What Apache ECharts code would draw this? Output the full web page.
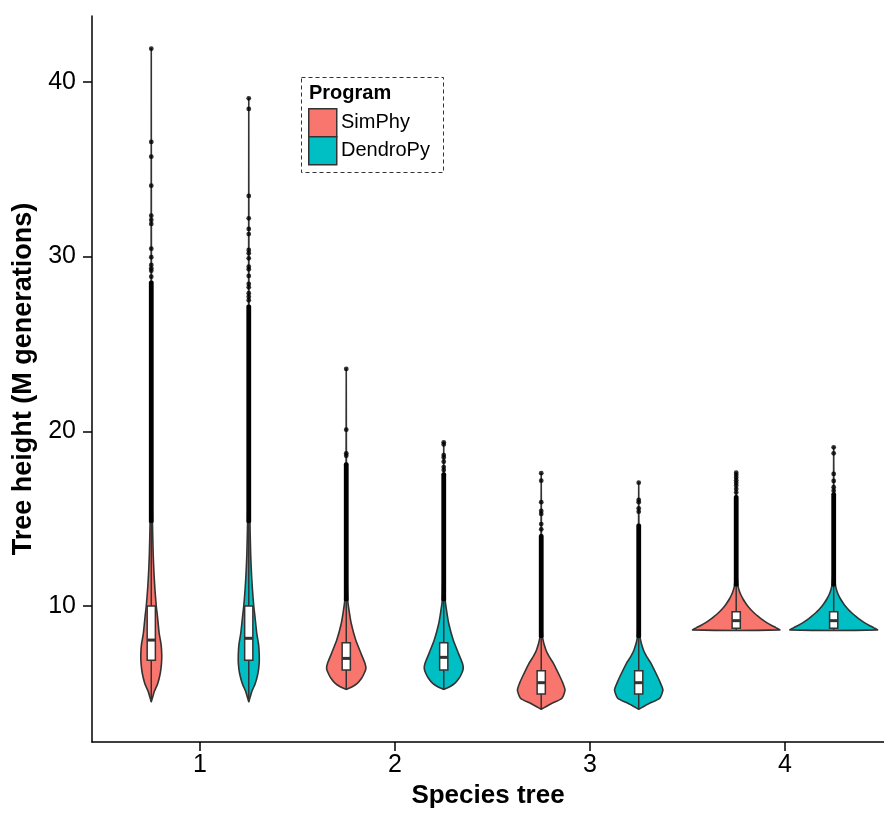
<!DOCTYPE html>
<html>
<head>
<meta charset="utf-8">
<script src="https://cdn.jsdelivr.net/npm/echarts@6/dist/echarts.min.js"></script>
<style>html,body{margin:0;padding:0;background:#fff}#c{width:884px;height:816px}</style>
</head>
<body>
<div id="c"></div>
<script>
// ---- data ----
const speciesTrees = ['1', '2', '3', '4'];
const programs = ['SimPhy', 'DendroPy'];
const yTicks = [10, 20, 30, 40];

// violin outlines: [tree height, half width in category units], bottom to top
const violinSimPhy1 = [[4.52,0],[4.8,.0077],[5.1,.0154],[5.57,.0333],[6.15,.0462],[6.7,.0523],[7.2,.0538],[7.8,.0503],[8.44,.0405],[9.4,.0318],[10.0,.0256],[11.0,.0185],[12.0,.0133],[13.0,.0097],[14.7,.0062],[17,.0031],[21,.0015],[28,.0008],[35,.0003],[41.9,0]];
const violinDendroPy1 = [[4.52,0],[4.8,.0077],[5.1,.0154],[5.57,.0333],[6.15,.0472],[6.7,.0533],[7.2,.0538],[7.8,.0503],[8.44,.041],[9.4,.0318],[10.0,.0256],[11.0,.0185],[12.0,.0133],[13.0,.0097],[14.7,.0062],[17,.0031],[21,.0015],[28,.0008],[34,.0003],[39.06,0]];
const violinSimPhy2 = [[5.23,0],[5.38,.0308],[5.57,.0564],[5.86,.0785],[6.15,.0923],[6.43,.1010],[6.72,.0959],[7.29,.0754],[8.05,.0487],[9.0,.0256],[9.67,.0154],[10.25,.0082],[11.5,.0046],[13,.0026],[16,.0013],[20,.0005],[23.57,0]];
const violinDendroPy2 = [[5.23,0],[5.38,.0308],[5.57,.0564],[5.86,.0785],[6.15,.0923],[6.43,.1000],[6.72,.0959],[7.29,.0754],[8.05,.0487],[9.0,.0256],[9.67,.0154],[10.25,.0082],[11.5,.0046],[13,.0026],[16,.0013],[19.37,0]];
const violinSimPhy3 = [[4.09,0],[4.25,.0256],[4.43,.0554],[4.72,.1067],[5.19,.1221],[5.6,.1103],[5.95,.0964],[6.72,.0626],[7.1,.041],[7.48,.0241],[8.15,.0077],[9,.0041],[11,.0021],[14,.001],[17.6,0]];
const violinDendroPy3 = [[4.09,0],[4.25,.0256],[4.43,.0554],[4.72,.1080],[5.19,.1241],[5.6,.1110],[5.95,.0970],[6.72,.0630],[7.1,.041],[7.48,.0241],[8.15,.0077],[9,.0041],[11,.0021],[14,.001],[17.06,0]];
const violinSimPhy4 = [[8.63,.2236],[8.75,.2051],[8.9,.1795],[9.05,.1564],[9.2,.1359],[9.4,.1128],[9.6,.0923],[9.8,.0744],[10.0,.0590],[10.2,.0462],[10.4,.0349],[10.6,.0256],[10.8,.0179],[11.1,.0103],[11.5,.0062],[12,.0041],[14,.0021],[17.63,0]];
const violinDendroPy4 = [[8.63,.2246],[8.75,.2060],[8.9,.1805],[9.05,.1574],[9.2,.1369],[9.4,.1138],[9.6,.0933],[9.8,.0750],[10.0,.0595],[10.2,.0465],[10.4,.0351],[10.6,.0258],[10.8,.0180],[11.1,.0103],[11.5,.0062],[12,.0041],[14,.0021],[19.08,0]];

// box statistics: [lower whisker, q1, median, q3, upper whisker] per species tree
const boxSimPhy = [[4.52,6.9,8.05,10.0,14.73],[5.23,6.34,7.0,7.9,10.25],[4.09,4.96,5.61,6.3,8.15],[8.63,8.72,9.16,9.67,11.1]];
const boxDendroPy = [[4.52,6.9,8.15,10.0,14.73],[5.23,6.34,7.06,7.9,10.25],[4.09,4.96,5.61,6.3,8.15],[8.63,8.72,9.16,9.67,11.1]];

// outliers: dense run [from, to] and separate points above it
const denseSimPhy = [[14.73,28.57],[10.25,18.17],[8.15,14.06],[11.1,16.3]];
const denseDendroPy = [[14.73,27.2],[10.25,17.6],[8.15,14.67],[11.1,16.45]];
const outliersSimPhy = [
  [41.9,36.56,35.72,34.06,32.34,32.1,31.87,30.45,29.96,29.52,29.33,29.19,28.85],
  [23.57,20.09,18.74,18.6],
  [17.6,17.17,15.94,15.44,15.27,14.69,14.39],
  [17.63,17.5,17.35,17.2,17.05,16.9,16.7,16.5]
];
const outliersDendroPy = [
  [39.06,38.45,33.47,32.19,31.58,31.29,30.38,30.19,29.9,29.42,29.27,28.89,28.43,28.24,27.9,27.7,27.5],
  [19.37,19.25,18.64,18.5,18.26,17.95,17.78],
  [17.06,16.07,15.94,15.59,15.4],
  [19.08,18.74,17.56,17.16,16.8,16.6]
];

// ---- build ----
const colors = ['#F8766D', '#00BFC4'];
const dodge = [-0.25, 0.25];
const violinsByProgram = [
  [violinSimPhy1, violinSimPhy2, violinSimPhy3, violinSimPhy4],
  [violinDendroPy1, violinDendroPy2, violinDendroPy3, violinDendroPy4]
];
const boxesByProgram = [boxSimPhy, boxDendroPy];
const denseByProgram = [denseSimPhy, denseDendroPy];
const outByProgram = [outliersSimPhy, outliersDendroPy];

const items = [];
const denseData = [];
const pointData = [];
speciesTrees.forEach((t, ti) => {
  programs.forEach((p, pi) => {
    const x = ti + 1 + dodge[pi];
    const prof = violinsByProgram[pi][ti];
    items.push({ x, prof, box: boxesByProgram[pi][ti], color: colors[pi] });
    const d = denseByProgram[pi][ti];
    denseData.push([x, d[0], d[1]]);
    outByProgram[pi][ti].forEach(v => pointData.push([x, v]));
  });
});
const violinData = items.map((it, i) => [it.x, it.prof[0][0], it.prof[it.prof.length - 1][0], i]);

const chart = echarts.init(document.getElementById('c'));
const FONT = 'Liberation Sans, Arial, Helvetica, sans-serif';
const BOXHALF = 0.021;

chart.setOption({
  animation: false,
  backgroundColor: '#fff',
  grid: { left: 92, right: 0, top: 16, bottom: 74, containLabel: false },
  xAxis: {
    type: 'value', min: 0.446, max: 4.508,
    axisLine: { show: true, onZero: false, lineStyle: { color: '#000', width: 1.5 } },
    axisTick: { show: true, length: 9, customValues: [1, 2, 3, 4], lineStyle: { color: '#000', width: 1.5 } },
    axisLabel: { customValues: [1, 2, 3, 4], formatter: v => speciesTrees[Math.round(v) - 1], fontSize: 25, color: '#000', margin: 11, fontFamily: FONT },
    splitLine: { show: false },
    name: 'Species tree', nameLocation: 'middle', nameGap: 41,
    nameTextStyle: { fontSize: 26, fontWeight: 'bold', color: '#000', fontFamily: FONT, verticalAlign: 'top' }
  },
  yAxis: {
    type: 'value', min: 2.215, max: 43.77,
    axisLine: { show: true, onZero: false, lineStyle: { color: '#000', width: 1.5 } },
    axisTick: { show: true, length: 9, customValues: yTicks, lineStyle: { color: '#000', width: 1.5 } },
    axisLabel: { customValues: yTicks, fontSize: 25, color: '#000', margin: 16, fontFamily: FONT },
    splitLine: { show: false },
    name: 'Tree height (M generations)', nameLocation: 'middle', nameGap: 52, nameRotate: 90,
    nameTextStyle: { fontSize: 27, fontWeight: 'bold', color: '#000', fontFamily: FONT }
  },
  series: [
    {
      type: 'custom', z: 1,
      data: violinData,
      encode: { x: 0, y: [1, 2] },
      renderItem: (params, api) => {
        const it = items[api.value(3)];
        const x = it.x;
        const left = it.prof.map(([y, w]) => api.coord([x - w, y]));
        const right = it.prof.slice().reverse().map(([y, w]) => api.coord([x + w, y]));
        const [lo, q1, med, q3, hi] = it.box;
        const pLo = api.coord([x, lo]), pQ1 = api.coord([x, q1]), pQ3 = api.coord([x, q3]), pHi = api.coord([x, hi]);
        const bl = api.coord([x - BOXHALF, q3]), br = api.coord([x + BOXHALF, q1]);
        const ml = api.coord([x - BOXHALF, med]), mr = api.coord([x + BOXHALF, med]);
        return {
          type: 'group',
          children: [
            { type: 'polygon', shape: { points: left.concat(right), smooth: 0.2 }, style: { fill: it.color, stroke: '#333333', lineWidth: 1.6, lineJoin: 'round' } },
            { type: 'line', shape: { x1: pLo[0], y1: pLo[1], x2: pQ1[0], y2: pQ1[1] }, style: { stroke: '#333333', lineWidth: 1.5 } },
            { type: 'line', shape: { x1: pQ3[0], y1: pQ3[1], x2: pHi[0], y2: pHi[1] }, style: { stroke: '#333333', lineWidth: 1.5 } },
            { type: 'rect', shape: { x: bl[0], y: bl[1], width: br[0] - bl[0], height: br[1] - bl[1] }, style: { fill: '#ffffff', stroke: '#333333', lineWidth: 1.5 } },
            { type: 'line', shape: { x1: ml[0], y1: ml[1], x2: mr[0], y2: mr[1] }, style: { stroke: '#333333', lineWidth: 3 } }
          ]
        };
      }
    },
    {
      type: 'custom', z: 2,
      data: denseData,
      encode: { x: 0, y: [1, 2] },
      renderItem: (params, api) => {
        const a = api.coord([api.value(0), api.value(1)]);
        const b = api.coord([api.value(0), api.value(2)]);
        return { type: 'rect', shape: { x: a[0] - 2.4, y: b[1] - 1, width: 4.8, height: a[1] - b[1] + 1, r: 2 }, style: { fill: '#000' } };
      }
    },
    {
      type: 'scatter', z: 3,
      data: pointData,
      symbol: 'circle', symbolSize: 4.8,
      itemStyle: { color: '#000' }
    }
  ],
  graphic: [
    { type: 'rect', left: 301, top: 77, shape: { width: 142, height: 95 }, style: { fill: '#fff', stroke: '#333', lineWidth: 1, lineDash: [4, 3] } },
    { type: 'text', left: 309, top: 83, style: { text: 'Program', font: 'bold 20px ' + FONT, fill: '#000' } },
    { type: 'rect', left: 308, top: 108, shape: { width: 28, height: 28 }, style: { fill: colors[0], stroke: '#333', lineWidth: 1.5 } },
    { type: 'rect', left: 308, top: 136, shape: { width: 28, height: 28 }, style: { fill: colors[1], stroke: '#333', lineWidth: 1.5 } },
    { type: 'text', left: 341, top: 112, style: { text: programs[0], font: '20px ' + FONT, fill: '#000' } },
    { type: 'text', left: 341, top: 140, style: { text: programs[1], font: '20px ' + FONT, fill: '#000' } }
  ]
});
</script>
</body>
</html>
